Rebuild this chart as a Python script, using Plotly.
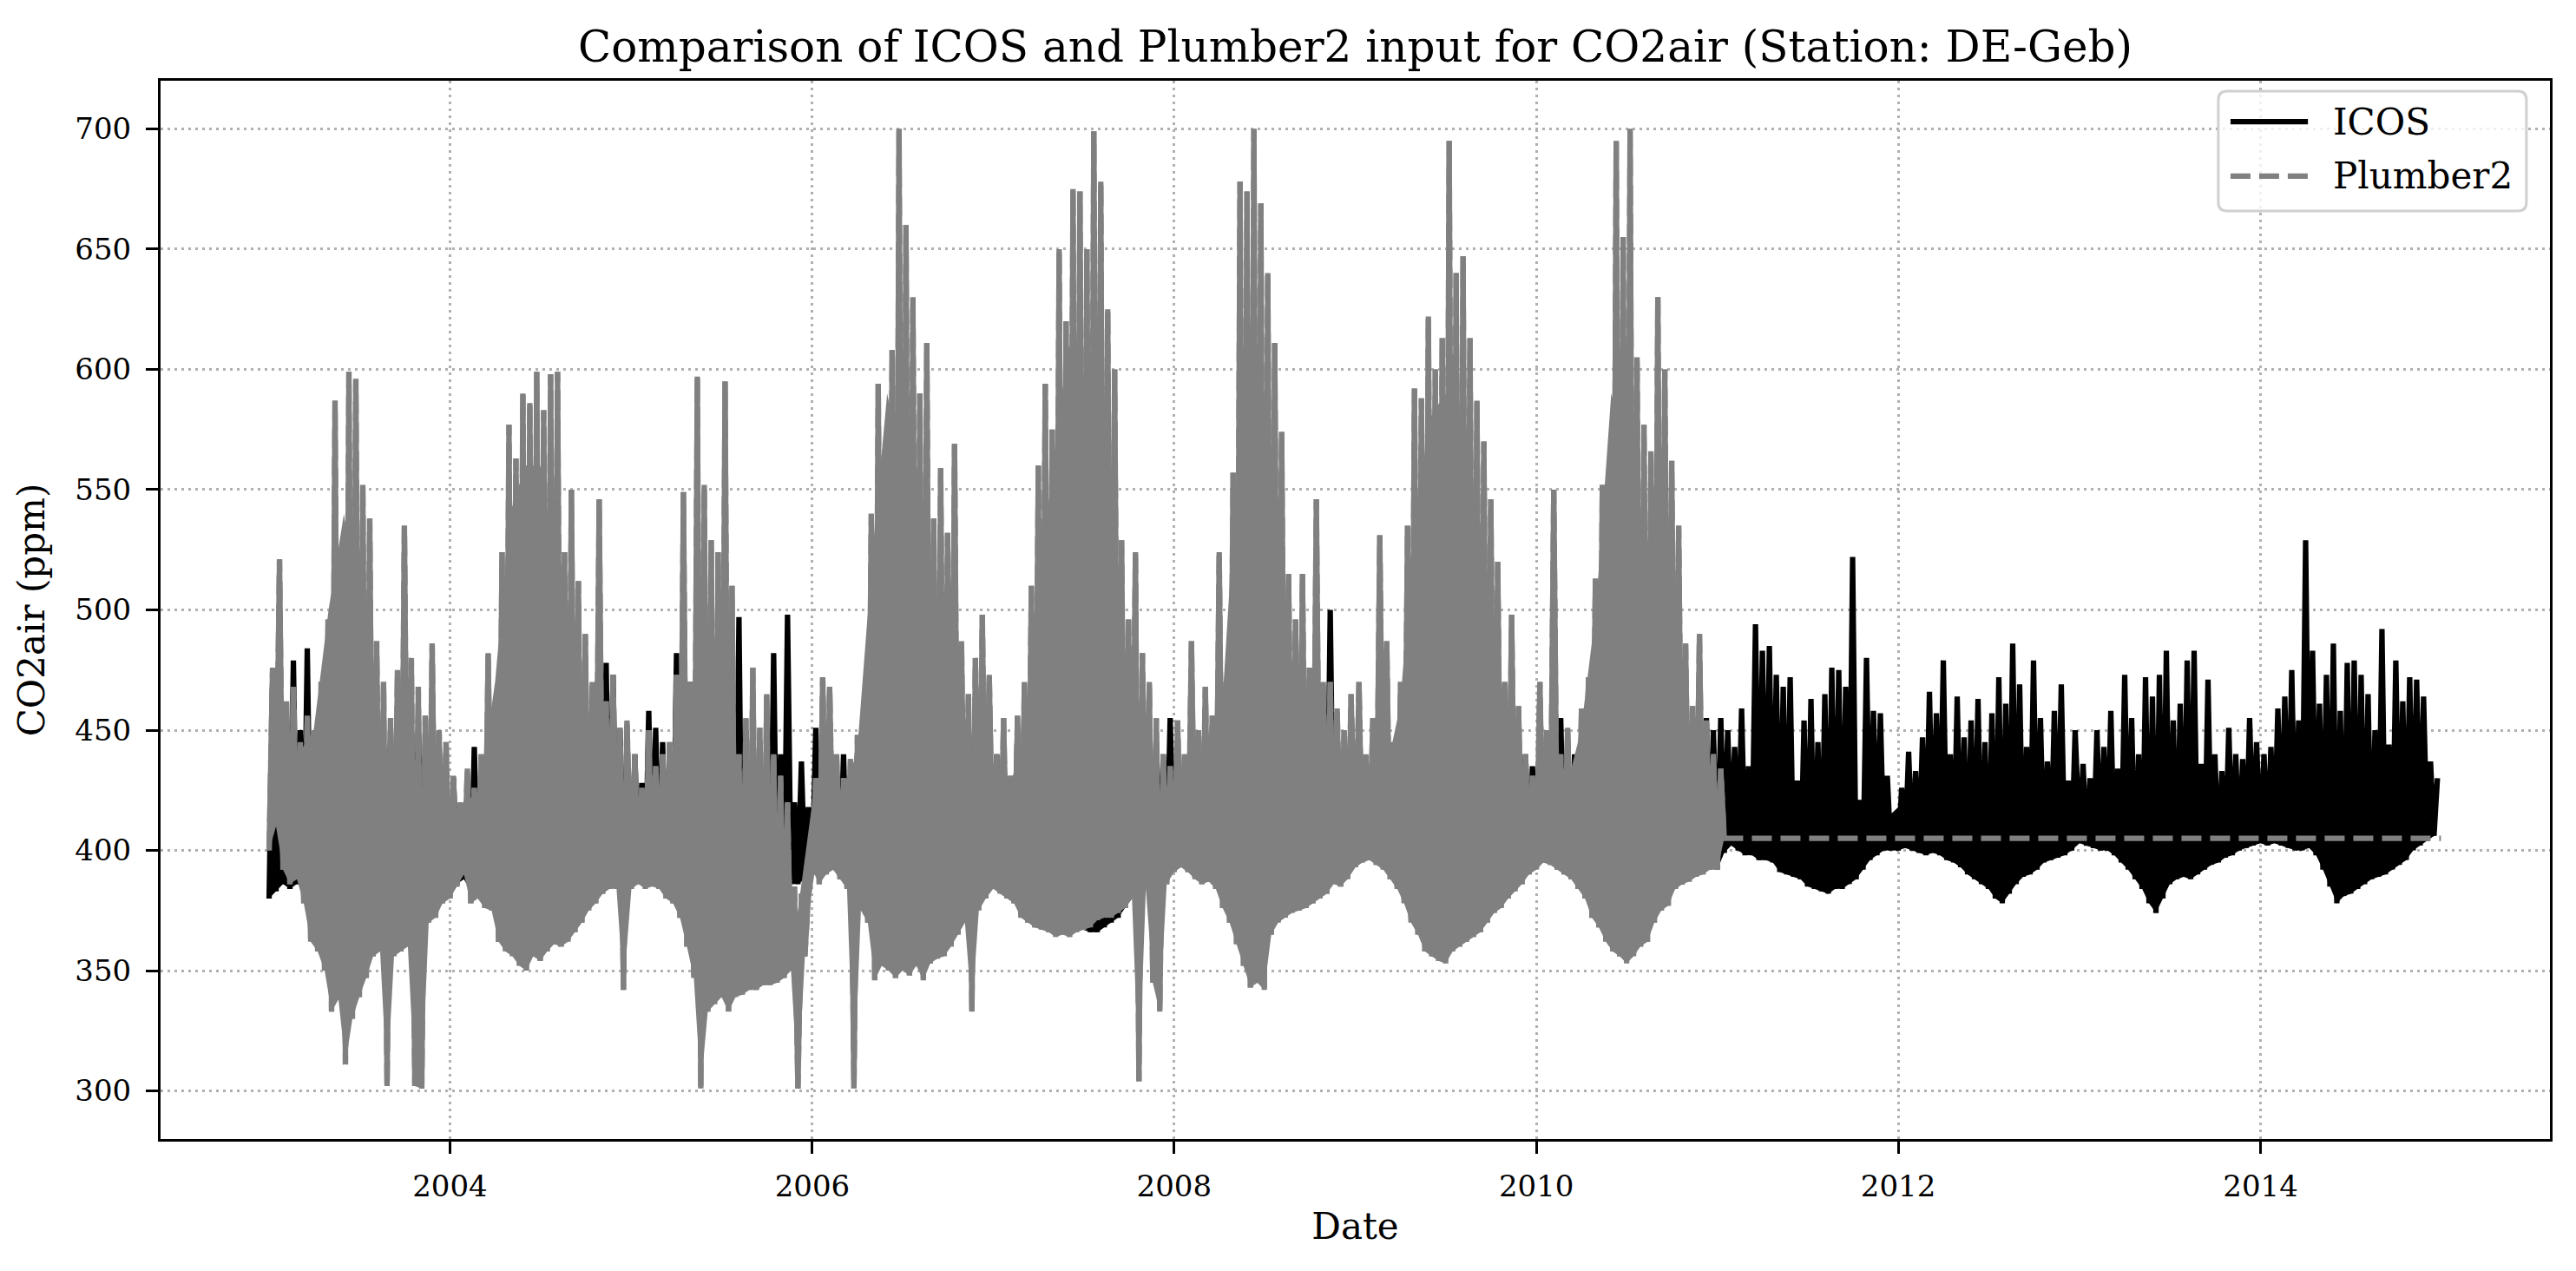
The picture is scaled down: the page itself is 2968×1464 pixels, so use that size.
import pandas as pd
import plotly.graph_objects as go

# weekly readings from the picture, each year alternates (low, high) in ppm

ICOS_2003 = [380, 470, 383, 460, 386, 455, 384, 479, 386, 450, 385, 484, 384, 440, 383, 455,
             380, 470, 375, 480, 372, 470, 368, 475, 366, 470, 368, 465, 370, 460, 372, 455,
             372, 447, 375, 450, 372, 455, 374, 460, 376, 450, 376, 455, 378, 445, 380, 450,
             382, 440, 384, 430]
ICOS_2004 = [385, 430, 386, 418, 388, 425, 383, 443, 382, 430, 380, 445, 378, 435, 372, 450,
             368, 460, 365, 470, 362, 465, 362, 470, 364, 475, 364, 470, 366, 468, 368, 462,
             370, 460, 372, 455, 374, 450, 378, 455, 380, 450, 382, 460, 384, 478, 386, 473,
             388, 450, 390, 440]
ICOS_2005 = [390, 440, 390, 428, 388, 458, 388, 451, 386, 445, 384, 440, 383, 482, 380, 460,
             372, 470, 366, 465, 360, 470, 356, 460, 355, 465, 356, 460, 356, 455, 358, 497,
             360, 450, 362, 445, 364, 445, 366, 440, 370, 482, 374, 440, 378, 498, 386, 420,
             386, 437, 388, 418]
ICOS_2006 = [390, 451, 392, 440, 393, 440, 392, 435, 390, 440, 388, 432, 386, 440, 384, 450,
             380, 470, 376, 480, 372, 475, 370, 490, 368, 480, 368, 485, 368, 470, 370, 480,
             370, 470, 372, 465, 372, 495, 374, 460, 376, 470, 378, 460, 380, 455, 382, 460,
             384, 450, 385, 445]
ICOS_2007 = [386, 440, 385, 445, 383, 430, 382, 450, 378, 455, 376, 460, 374, 470, 372, 475,
             371, 470, 370, 480, 369, 475, 368, 485, 368, 480, 367, 470, 366, 480, 366, 470,
             368, 465, 370, 470, 372, 460, 376, 455, 380, 460, 382, 455, 385, 450, 386, 445,
             388, 440, 390, 455]
ICOS_2008 = [392, 440, 394, 432, 392, 445, 390, 440, 388, 445, 388, 440, 386, 450, 382, 455,
             378, 465, 374, 470, 370, 480, 366, 475, 368, 480, 368, 470, 370, 470, 371, 465,
             374, 460, 376, 465, 378, 460, 380, 455, 382, 460, 384, 455, 386, 500, 388, 450,
             390, 440, 390, 445]
ICOS_2009 = [395, 445, 396, 432, 397, 440, 396, 450, 394, 445, 392, 440, 388, 450, 384, 460,
             378, 470, 374, 475, 370, 480, 366, 470, 364, 480, 362, 485, 364, 475, 366, 480,
             368, 470, 370, 465, 372, 470, 375, 460, 378, 465, 380, 455, 384, 460, 386, 450,
             388, 440, 392, 435]
ICOS_2010 = [394, 445, 396, 440, 396, 450, 395, 455, 393, 445, 392, 440, 388, 450, 384, 460,
             378, 470, 374, 475, 370, 480, 366, 470, 364, 485, 362, 480, 364, 470, 366, 475,
             370, 470, 374, 465, 378, 460, 380, 465, 384, 455, 386, 460, 388, 450, 390, 445,
             392, 455, 394, 450]
ICOS_2011 = [392, 455, 399, 450, 402, 443, 400, 459, 398, 435, 398, 494, 396, 483, 396, 485,
             395, 473, 391, 468, 390, 472, 389, 429, 388, 454, 385, 463, 384, 445, 383, 465,
             382, 476, 384, 475, 384, 468, 386, 522, 388, 421, 392, 480, 396, 458, 398, 457,
             400, 431, 400, 414]
ICOS_2012 = [400, 426, 401, 441, 400, 433, 399, 447, 398, 466, 399, 457, 398, 479, 396, 440,
             395, 464, 393, 447, 390, 454, 388, 463, 386, 445, 384, 457, 380, 472, 378, 461,
             382, 486, 386, 469, 389, 443, 390, 479, 392, 455, 395, 437, 396, 458, 397, 469,
             398, 429, 400, 450]
ICOS_2013 = [403, 436, 402, 430, 401, 450, 400, 443, 400, 458, 398, 434, 395, 473, 392, 455,
             388, 440, 384, 472, 378, 464, 374, 473, 380, 483, 386, 454, 388, 461, 389, 479,
             388, 483, 390, 436, 392, 471, 394, 440, 395, 433, 397, 451, 398, 440, 400, 438,
             401, 455, 402, 445]
ICOS_2014 = [403, 440, 402, 443, 403, 459, 402, 464, 401, 475, 400, 454, 400, 529, 401, 483,
             398, 461, 392, 473, 385, 486, 378, 458, 381, 478, 382, 479, 384, 473, 386, 465,
             388, 450, 389, 492, 390, 444, 392, 479, 394, 462, 396, 472, 400, 471, 402, 464,
             404, 437, 406, 430]

P2_2003 = [400, 476, 410, 521, 392, 462, 386, 468, 388, 445, 378, 456, 362, 450, 358, 470,
           350, 496, 333, 587, 338, 520, 311, 599, 330, 596, 339, 552, 347, 538, 356, 487,
           358, 470, 302, 455, 356, 475, 358, 535, 360, 480, 302, 468, 301, 456, 370, 486,
           372, 450, 378, 445]
P2_2004 = [380, 431, 385, 420, 390, 434, 378, 426, 380, 440, 376, 482, 375, 438, 362, 524,
           358, 577, 356, 563, 352, 590, 350, 586, 356, 599, 354, 583, 358, 598, 361, 599,
           360, 524, 362, 550, 366, 512, 370, 490, 375, 470, 378, 546, 382, 462, 384, 473,
           384, 451, 342, 454]
P2_2005 = [384, 440, 386, 426, 384, 450, 385, 435, 384, 440, 380, 445, 378, 473, 372, 549,
           360, 470, 347, 597, 301, 552, 333, 529, 336, 524, 339, 595, 333, 510, 339, 440,
           340, 455, 342, 476, 342, 451, 344, 465, 344, 440, 345, 431, 347, 420, 350, 385,
           301, 382, 356, 381]
P2_2006 = [392, 430, 386, 472, 390, 468, 392, 440, 388, 430, 384, 438, 301, 448, 375, 460,
           370, 540, 346, 594, 352, 563, 350, 608, 347, 700, 350, 660, 348, 630, 352, 590,
           346, 611, 353, 538, 355, 559, 356, 532, 360, 569, 365, 487, 370, 465, 333, 480,
           375, 498, 380, 473]
P2_2007 = [384, 440, 382, 455, 380, 431, 378, 456, 372, 470, 370, 510, 368, 560, 367, 594,
           366, 575, 364, 650, 365, 620, 364, 675, 366, 674, 367, 650, 368, 699, 371, 678,
           372, 625, 372, 600, 374, 529, 376, 496, 380, 524, 304, 482, 384, 470, 345, 455,
           333, 440, 386, 435]
P2_2008 = [391, 454, 393, 440, 391, 487, 388, 450, 386, 468, 387, 456, 384, 524, 376, 470,
           370, 557, 361, 678, 352, 674, 343, 700, 345, 669, 342, 640, 365, 611, 370, 574,
           372, 515, 374, 496, 375, 515, 376, 476, 378, 546, 380, 470, 382, 470, 386, 459,
           385, 450, 388, 465]
P2_2009 = [393, 470, 395, 440, 396, 455, 394, 531, 392, 487, 388, 445, 384, 470, 378, 535,
           370, 592, 365, 588, 358, 622, 356, 600, 354, 613, 353, 695, 358, 640, 360, 647,
           362, 613, 364, 587, 366, 570, 370, 546, 374, 520, 376, 470, 380, 498, 383, 460,
           386, 440, 390, 431]
P2_2010 = [392, 470, 395, 450, 394, 550, 392, 440, 390, 451, 388, 430, 384, 459, 380, 472,
           372, 513, 368, 552, 362, 555, 358, 695, 356, 655, 353, 700, 356, 605, 360, 577,
           362, 566, 370, 630, 375, 600, 377, 562, 384, 535, 386, 486, 387, 460, 389, 490,
           390, 454, 392, 440]
P2_2011 = [392, 434, 405]
# after mid-January 2011 Plumber2 stays flat
P2_TAIL_DATES = ["2014-12-31"]
P2_TAIL = [405]

# monthly top of the solid (densely overdrawn) core of each record, ppm
ICOS_CORE_2003 = [430, 425, 420, 430, 440, 440, 440, 430, 425, 420, 415, 410]
ICOS_CORE_2004 = [410, 410, 415, 430, 440, 450, 450, 440, 430, 425, 420, 418]
ICOS_CORE_2005 = [418, 415, 418, 425, 435, 435, 430, 425, 415, 410, 405, 412]
ICOS_CORE_2006 = [415, 415, 418, 430, 450, 460, 460, 450, 440, 430, 425, 420]
ICOS_CORE_2007 = [420, 420, 425, 440, 450, 460, 460, 450, 440, 430, 425, 418]
ICOS_CORE_2008 = [420, 420, 422, 430, 450, 460, 460, 450, 440, 430, 425, 420]
ICOS_CORE_2009 = [420, 420, 422, 430, 450, 460, 460, 450, 440, 430, 425, 420]
ICOS_CORE_2010 = [420, 420, 420, 430, 450, 460, 460, 450, 440, 430, 425, 420]
ICOS_CORE_2011 = [425, 428, 430, 432, 430, 428, 430, 432, 430, 420, 420, 412]
ICOS_CORE_2012 = [418, 420, 425, 428, 430, 432, 435, 432, 428, 425, 422, 420]
ICOS_CORE_2013 = [420, 420, 422, 425, 430, 432, 435, 430, 428, 425, 425, 422]
ICOS_CORE_2014 = [422, 425, 428, 430, 432, 435, 435, 432, 430, 428, 425, 420]

P2_CORE_2003 = [450, 445, 440, 450, 500, 540, 500, 445, 440, 432, 428, 420]
P2_CORE_2004 = [415, 420, 425, 470, 540, 560, 560, 520, 470, 440, 430, 425]
P2_CORE_2005 = [425, 420, 428, 440, 460, 470, 445, 430, 425, 415, 405, 372]
P2_CORE_2006 = [420, 420, 425, 440, 520, 590, 560, 520, 490, 450, 440, 440]
P2_CORE_2007 = [425, 425, 445, 500, 560, 610, 600, 540, 470, 450, 430, 420]
P2_CORE_2008 = [425, 430, 430, 440, 540, 620, 560, 480, 460, 450, 440, 430]
P2_CORE_2009 = [425, 430, 430, 460, 540, 580, 590, 540, 480, 450, 440, 425]
P2_CORE_2010 = [425, 430, 425, 450, 500, 590, 570, 530, 500, 460, 445, 430]
P2_CORE_2011 = [420]

icos_years = [(2003, ICOS_2003), (2004, ICOS_2004), (2005, ICOS_2005), (2006, ICOS_2006),
              (2007, ICOS_2007), (2008, ICOS_2008), (2009, ICOS_2009), (2010, ICOS_2010),
              (2011, ICOS_2011), (2012, ICOS_2012), (2013, ICOS_2013), (2014, ICOS_2014)]
p2_years = [(2003, P2_2003), (2004, P2_2004), (2005, P2_2005), (2006, P2_2006),
            (2007, P2_2007), (2008, P2_2008), (2009, P2_2009), (2010, P2_2010),
            (2011, P2_2011)]
icos_core = [(2003, ICOS_CORE_2003), (2004, ICOS_CORE_2004), (2005, ICOS_CORE_2005),
             (2006, ICOS_CORE_2006), (2007, ICOS_CORE_2007), (2008, ICOS_CORE_2008),
             (2009, ICOS_CORE_2009), (2010, ICOS_CORE_2010), (2011, ICOS_CORE_2011),
             (2012, ICOS_CORE_2012), (2013, ICOS_CORE_2013), (2014, ICOS_CORE_2014)]
p2_core = [(2003, P2_CORE_2003), (2004, P2_CORE_2004), (2005, P2_CORE_2005),
           (2006, P2_CORE_2006), (2007, P2_CORE_2007), (2008, P2_CORE_2008),
           (2009, P2_CORE_2009), (2010, P2_CORE_2010), (2011, P2_CORE_2011)]


def stack(years, freq):
    xs, ys = [], []
    for yr, vals in years:
        xs += list(pd.date_range(f"{yr}-01-01", periods=len(vals), freq=freq))
        ys += vals
    return xs, ys


icos_x, icos_y = stack(icos_years, "7D")
icos_cx, icos_cy = stack(icos_core, "MS")
p2_dense_x, p2_dense_y = stack(p2_years, "7D")
p2_cx, p2_cy = stack(p2_core, "MS")
p2_x = p2_dense_x + list(pd.to_datetime(P2_TAIL_DATES))
p2_y = p2_dense_y + P2_TAIL

GRAY = '#808080'
LW = 6.2
DASH = '23px,10px'


def core_band(fig, lx, ly, cx, cy, color):
    # bottom edge = the weekly lows, top edge = the monthly core top
    fig.add_trace(go.Scatter(x=lx, y=ly, mode='lines', showlegend=False, hoverinfo='skip',
                             line=dict(width=0, color=color)))
    fig.add_trace(go.Scatter(x=cx, y=cy, mode='lines', showlegend=False, hoverinfo='skip',
                             fill='tonexty', fillcolor=color, line=dict(width=0, color=color)))


fig = go.Figure()
core_band(fig, icos_x[0::2], icos_y[0::2], icos_cx, icos_cy, 'black')
fig.add_trace(go.Scatter(x=icos_x, y=icos_y, mode='lines', name='ICOS', showlegend=False,
                         line=dict(color='black', width=LW, simplify=False)))
core_band(fig, p2_dense_x[0::2], p2_dense_y[0::2], p2_cx, p2_cy, GRAY)
# the hourly record is so dense that the dash gaps close up; a solid underlay gives that look
fig.add_trace(go.Scatter(x=p2_dense_x, y=p2_dense_y, mode='lines', showlegend=False,
                         hoverinfo='skip', line=dict(color=GRAY, width=LW, simplify=False)))
fig.add_trace(go.Scatter(x=p2_x, y=p2_y, mode='lines', name='Plumber2', showlegend=False,
                         line=dict(color=GRAY, width=LW, dash=DASH, simplify=False)))

axis_style = dict(showgrid=True, gridcolor='#b0b0b0', griddash='3px,5px', gridwidth=2.5,
                  showline=True, mirror=True, linecolor='black', linewidth=3,
                  ticks='outside', ticklen=14, tickwidth=3, tickcolor='black',
                  tickfont=dict(size=34), zeroline=False)

# legend drawn by hand so the sample lines get matplotlib's length
box_path = ('M 10,0 H 345 Q 355,0 355,-10 V -128 Q 355,-138 345,-138 '
            'H 10 Q 0,-138 0,-128 V -10 Q 0,0 10,0 Z')
shapes = [
    dict(type='path', xref='paper', yref='paper', xsizemode='pixel', ysizemode='pixel',
         xanchor=0.8612, yanchor=0.9902, path=box_path, layer='above',
         line=dict(color='#d0d0d0', width=3), fillcolor='rgba(255,255,255,0.8)'),
    dict(type='line', xref='paper', yref='paper', x0=0.8663, x1=0.8987, y0=0.9614, y1=0.9614,
         layer='above', line=dict(color='black', width=LW)),
    dict(type='line', xref='paper', yref='paper', x0=0.8663, x1=0.8987, y0=0.9098, y1=0.9098,
         layer='above', line=dict(color=GRAY, width=LW, dash=DASH)),
]
annotations = [
    dict(text='ICOS', xref='paper', yref='paper', x=0.9085, y=0.9614, xanchor='left',
         yanchor='middle', showarrow=False, font=dict(size=42)),
    dict(text='Plumber2', xref='paper', yref='paper', x=0.9085, y=0.9098, xanchor='left',
         yanchor='middle', showarrow=False, font=dict(size=42)),
]

# the page body has an 8px margin, so the figure is trimmed by that much
fig.update_layout(
    width=2952, height=1448,
    margin=dict(l=177, r=22, t=85, b=144),
    paper_bgcolor='white', plot_bgcolor='white',
    font=dict(family='DejaVu Serif', color='black'),
    title=dict(text='Comparison of ICOS and Plumber2 input for CO2air (Station: DE-Geb)',
               font=dict(size=50), x=0.5, xref='paper', xanchor='center',
               y=1 - 45 / 1448, yref='container', yanchor='middle'),
    xaxis=dict(axis_style, type='date', range=['2002-05-27', '2015-08-08'],
               tick0='2004-01-01', dtick='M24', tickformat='%Y', ticklabelstandoff=8,
               title=dict(text='Date', font=dict(size=42), standoff=13)),
    yaxis=dict(axis_style, range=[280, 720], tick0=300, dtick=50, ticklabelstandoff=10,
               title=dict(text='CO2air (ppm)', font=dict(size=42), standoff=22)),
    shapes=shapes,
    annotations=annotations,
    showlegend=False,
)

fig.write_html("out.html", config={'displayModeBar': False})
